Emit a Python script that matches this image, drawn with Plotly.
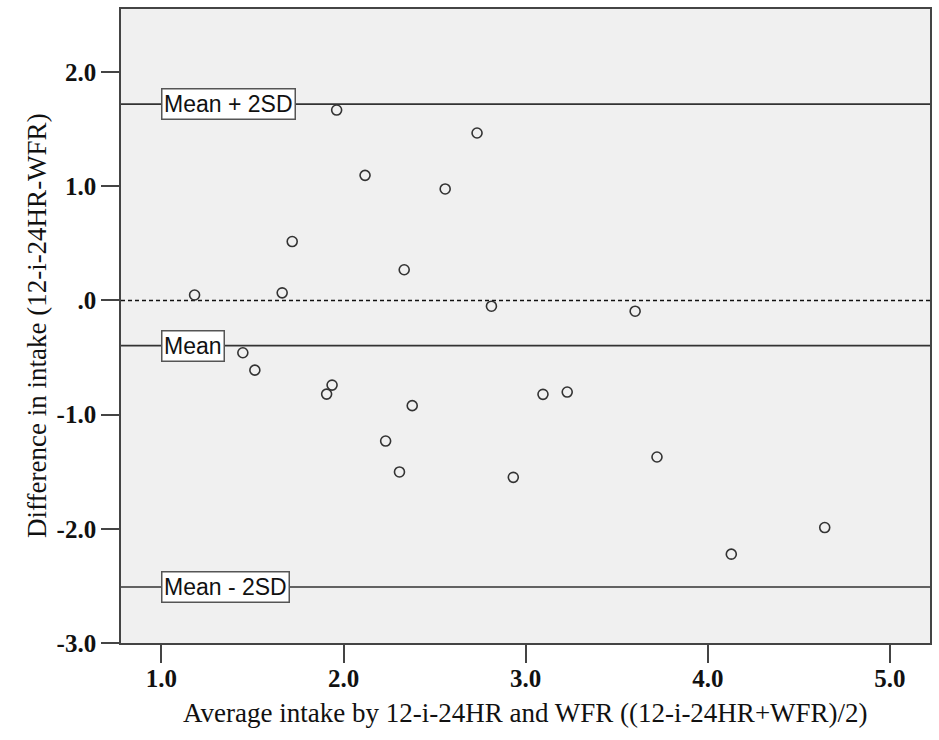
import plotly.graph_objects as go

# Data
avg_intake = [1.962, 2.733, 2.118, 2.558, 1.718, 2.333, 1.182, 1.663, 2.812,
              1.447, 1.513, 1.937, 1.907, 2.377, 2.231, 2.307, 2.932, 3.601,
              3.095, 3.228, 3.721, 4.129, 4.642]
diff_intake = [1.668, 1.467, 1.096, 0.977, 0.516, 0.269, 0.048, 0.067, -0.050,
               -0.458, -0.610, -0.741, -0.820, -0.921, -1.231, -1.502, -1.549, -0.094,
               -0.822, -0.802, -1.371, -2.222, -1.989]

ref_labels = ["Mean + 2SD", "Mean", "Mean - 2SD"]
ref_values = [1.72, -0.395, -2.51]
zero_value = 0.0

x_tickvals = [1.0, 2.0, 3.0, 4.0, 5.0]
x_ticktext = ["1.0", "2.0", "3.0", "4.0", "5.0"]
y_tickvals = [2.0, 1.0, 0.0, -1.0, -2.0, -3.0]
y_ticktext = ["2.0", "1.0", ".0", "-1.0", "-2.0", "-3.0"]

x_title = "Average intake by 12-i-24HR and WFR ((12-i-24HR+WFR)/2)"
y_title = "Difference in intake (12-i-24HR-WFR)"

x_range = [0.778, 5.22]
y_range = [-3.0, 2.553]

serif = "Liberation Serif, Times New Roman, serif"

fig = go.Figure()

fig.add_trace(go.Scatter(
    x=avg_intake, y=diff_intake, mode="markers",
    marker=dict(symbol="circle-open", size=10, color="#333333",
                line=dict(width=1.6, color="#333333")),
    showlegend=False, hoverinfo="x+y",
))

# Reference lines
for v in ref_values:
    fig.add_hline(y=v, line=dict(color="#333333", width=1.6), layer="below")
fig.add_hline(y=zero_value, line=dict(color="#111111", width=1.5, dash="4px,3px"), layer="below")

# Reference labels
for lab, v in zip(ref_labels, ref_values):
    fig.add_annotation(
        x=1.0, y=v, xref="x", yref="y", text=lab, showarrow=False,
        xanchor="left", yanchor="middle",
        font=dict(family="Liberation Sans, Arial, sans-serif", size=23, color="#111111"),
        bgcolor="white", bordercolor="#555555", borderwidth=1.5, borderpad=1.5,
    )

# Axis titles
fig.add_annotation(
    x=0.5, y=0, xref="paper", yref="paper", text=x_title, showarrow=False,
    xanchor="center", yanchor="middle", yshift=-70,
    font=dict(family=serif, size=27, color="#111111"),
)
fig.add_annotation(
    x=0, y=0.5, xref="paper", yref="paper", text=y_title, showarrow=False,
    xanchor="center", yanchor="middle", xshift=-84, textangle=-90,
    font=dict(family=serif, size=27, color="#111111"),
)

fig.update_layout(
    width=939, height=740,
    margin=dict(l=121, r=7, t=8, b=97),
    paper_bgcolor="white", plot_bgcolor="#f0f0f0",
    showlegend=False,
)

fig.update_xaxes(
    range=x_range, tickvals=x_tickvals, ticktext=x_ticktext,
    ticks="outside", ticklen=18, tickwidth=1.6, tickcolor="#444444",
    ticklabelstandoff=-6,
    showgrid=False, zeroline=False,
    showline=True, linecolor="#444444", linewidth=1.6, mirror=True,
    tickfont=dict(family=serif, size=25, color="#111111", weight="bold"),
)
fig.update_yaxes(
    range=y_range, tickvals=y_tickvals, ticktext=y_ticktext,
    ticks="outside", ticklen=18, tickwidth=1.6, tickcolor="#444444",
    showgrid=False, zeroline=False,
    showline=True, linecolor="#444444", linewidth=1.6, mirror=True,
    tickfont=dict(family=serif, size=25, color="#111111", weight="bold"),
)

fig.write_html("out.html")
